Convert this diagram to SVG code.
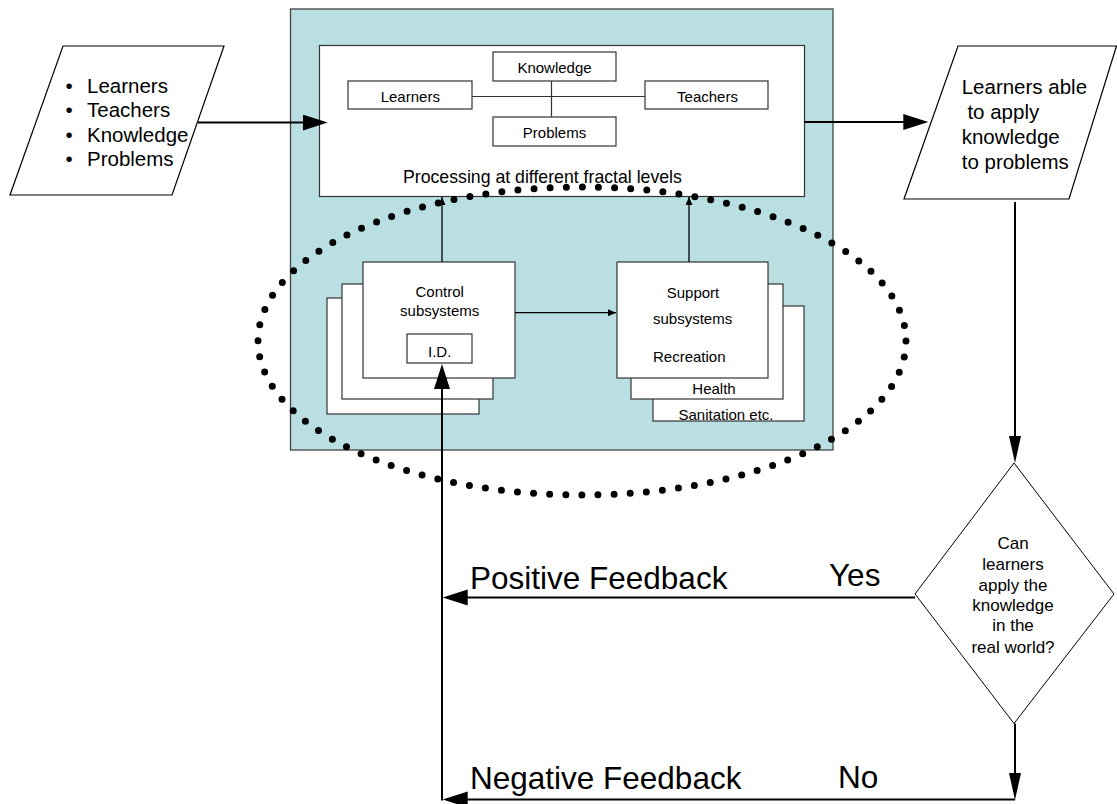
<svg xmlns="http://www.w3.org/2000/svg" width="1117" height="804" viewBox="0 0 1117 804">
<style>
text{font-family:"Liberation Sans",Arial,sans-serif;fill:#000}
.box{fill:#fff;stroke:#333;stroke-width:1.2}
.big{font-size:20.5px}
.mid{font-size:15px}
.dia{font-size:17px;text-anchor:middle}
.fb{font-size:31.5px}
.c{text-anchor:middle}
.thick{stroke:#000;stroke-width:2;fill:none}
.thin{stroke:#000;stroke-width:1.3;fill:none}
.link{stroke:#333;stroke-width:1.2;fill:none}
</style>
<defs>
<marker id="ah" markerUnits="userSpaceOnUse" markerWidth="26" markerHeight="17" refX="15" refY="8" orient="auto">
<path d="M0,0 L25,8 L0,16 Z" fill="#000"/>
</marker>
<marker id="ahn" markerUnits="userSpaceOnUse" markerWidth="28" markerHeight="13" refX="17" refY="6" orient="auto">
<path d="M0,0 L27,6 L0,12 Z" fill="#000"/>
</marker>
<marker id="as" markerUnits="userSpaceOnUse" markerWidth="9" markerHeight="8" refX="8" refY="3.5" orient="auto">
<path d="M0,0 L8,3.5 L0,7 Z" fill="#000"/>
</marker>
</defs>

<g id="inputs">
<polygon points="63,46 224,46 172,195 10,195" fill="#fff" stroke="#000" stroke-width="1.2"/>
<g class="big">
<text x="69" y="92.5" class="c">•</text><text x="87" y="92.5">Learners</text>
<text x="69" y="117" class="c">•</text><text x="87" y="117">Teachers</text>
<text x="69" y="141.5" class="c">•</text><text x="87" y="141.5">Knowledge</text>
<text x="69" y="166" class="c">•</text><text x="87" y="166">Problems</text>
</g>
</g>

<g id="processing-system">
<rect x="290.5" y="9" width="542.5" height="441" fill="#badfe2" stroke="#444" stroke-width="1.3"/>
</g>

<g id="processing">
<rect x="319.5" y="45.5" width="485" height="151" class="box"/>
<text x="403" y="183" style="font-size:17.7px">Processing at different fractal levels</text>
</g>

<g id="processing-links">
<line x1="472" y1="96.5" x2="645" y2="96.5" class="link"/>
<line x1="551.5" y1="81" x2="551.5" y2="117" class="link"/>
</g>

<g id="knowledge">
<rect x="493" y="52" width="123" height="29" class="box"/>
<text x="554.5" y="72.5" class="mid c">Knowledge</text>
</g>
<g id="learners">
<rect x="348" y="81" width="124" height="28" class="box"/>
<text x="410.3" y="102" class="mid c">Learners</text>
</g>
<g id="teachers">
<rect x="645" y="81" width="123" height="28" class="box"/>
<text x="707.5" y="102" class="mid c">Teachers</text>
</g>
<g id="problems">
<rect x="493" y="117" width="123" height="29" class="box"/>
<text x="554.5" y="137.5" class="mid c">Problems</text>
</g>

<g id="control-subsystems">
<rect x="327" y="298" width="152" height="116" class="box"/>
<rect x="342" y="284" width="151" height="115" class="box"/>
<rect x="363" y="262" width="152" height="116" class="box"/>
<text x="439.7" y="297" class="mid c">Control</text>
<text x="439.7" y="316" class="mid c">subsystems</text>
</g>
<g id="id">
<rect x="407" y="334" width="65" height="29" class="box"/>
<text x="439.7" y="357" class="mid c">I.D.</text>
</g>

<g id="support-subsystems">
<rect x="653" y="306" width="151" height="115" class="box"/>
<rect x="631" y="284" width="152" height="115" class="box"/>
<rect x="617" y="262" width="151" height="116" class="box"/>
<text x="666.7" y="298" class="mid">Support</text>
<text x="653" y="324" class="mid">subsystems</text>
<text x="653" y="362" class="mid">Recreation</text>
<text x="714" y="394" class="mid c">Health</text>
<text x="726" y="420" class="mid c">Sanitation etc.</text>
</g>

<g id="fractal-levels">
<ellipse cx="582" cy="341" rx="324" ry="154" fill="none" stroke="#000" stroke-width="7" stroke-linecap="round" stroke-dasharray="0 16.14"/>
</g>

<g id="outputs">
<polygon points="958,46 1116.5,46 1069,199 904,199" fill="#fff" stroke="#000" stroke-width="1.2"/>
<g class="big">
<text x="961.7" y="94">Learners able</text>
<text x="961.7" y="119" xml:space="preserve"> to apply</text>
<text x="961.7" y="143.5">knowledge</text>
<text x="961.7" y="169">to problems</text>
</g>
</g>

<g id="decision">
<polygon points="1014,463 1114,594 1014,723.5 915,594" fill="#fff" stroke="#000" stroke-width="1"/>
<text x="1013" y="549" class="dia">Can</text>
<text x="1013" y="570" class="dia">learners</text>
<text x="1013" y="590.5" class="dia">apply the</text>
<text x="1013" y="610.5" class="dia">knowledge</text>
<text x="1013" y="631" class="dia">in the</text>
<text x="1013" y="652.5" class="dia">real world?</text>
</g>

<g id="labels">
<text x="470" y="588.5" class="fb">Positive Feedback</text>
<text x="829" y="586" class="fb">Yes</text>
<text x="470" y="788.5" class="fb">Negative Feedback</text>
<text x="838" y="788" class="fb">No</text>
</g>

<g id="connectors">
<line x1="198" y1="122.5" x2="317.7" y2="122.5" class="thick" marker-end="url(#ah)"/>
<line x1="804.5" y1="122" x2="918.3" y2="122" class="thick" marker-end="url(#ah)"/>
<line x1="1015" y1="202" x2="1015" y2="453" class="thick" marker-end="url(#ahn)"/>
<line x1="915" y1="597.5" x2="452.7" y2="597.5" class="thick" marker-end="url(#ah)"/>
<line x1="1015" y1="723.5" x2="1015" y2="790" class="thick" marker-end="url(#ahn)"/>
<polyline points="1015,799.5 452.7,799.5" class="thick" marker-end="url(#ah)"/>
<line x1="442" y1="800.5" x2="442" y2="374" class="thick" marker-end="url(#ah)"/>
<line x1="515" y1="312.7" x2="616" y2="312.7" class="thin" marker-end="url(#as)"/>
<line x1="442" y1="262" x2="442" y2="197" class="thin" marker-end="url(#as)"/>
<line x1="689" y1="262" x2="689" y2="197" class="thin" marker-end="url(#as)"/>
</g>
</svg>
